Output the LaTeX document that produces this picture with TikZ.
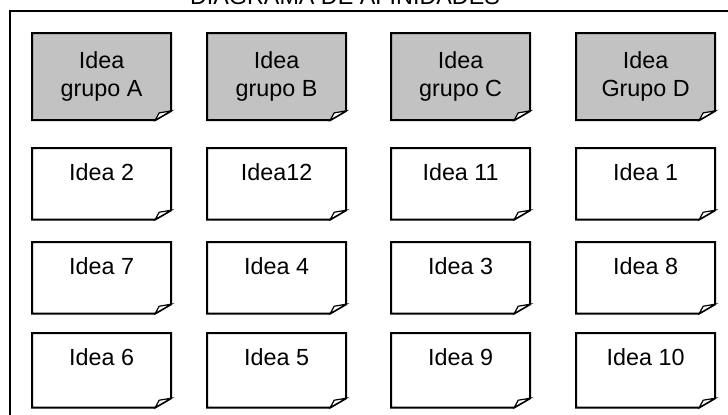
\documentclass[tikz,border=0pt]{standalone}
\usepackage{fontspec}
\setmainfont{Liberation Sans}
\usetikzlibrary{backgrounds}
\definecolor{notegray}{HTML}{C2C2C2}

\begin{document}
\begin{tikzpicture}[x=0.75pt, y=-0.75pt,
  idea/.style={anchor=north west, inner sep=0pt, minimum width=104pt, font=\fontsize{17.5}{21}\selectfont},
  cabecera/.style={idea, minimum height=65pt, align=center},
  tarjeta/.style={idea, text height=24pt, text depth=29.25pt},
  tarjetabaja/.style={idea, text height=24pt, text depth=31.5pt},
  hoja/.style={draw=black, line width=1.5pt}]
\useasboundingbox (0,0) rectangle (728,414);
\clip (0,0) rectangle (728,414);
% marco y titulo
\node[font=\fontsize{17.5}{21}\selectfont, anchor=base] (titulo) at (345,4) {DIAGRAMA DE AFINIDADES};
\draw[line width=1.5pt] (10,430) -- (10,11) -- (740,11);
% cabeceras de grupo
\node[cabecera] (ga) at (32,33) {Idea\\grupo A};
\node[cabecera] (gb) at (207,33) {Idea\\grupo B};
\node[cabecera] (gc) at (391,33) {Idea\\grupo C};
\node[cabecera] (gd) at (576,33) {Idea\\Grupo D};
% ideas
\node[tarjeta] (i2) at (32,148) {Idea 2};
\node[tarjeta] (i12) at (207,148) {Idea12};
\node[tarjeta] (i11) at (391,148) {Idea 11};
\node[tarjeta] (i1) at (576,148) {Idea 1};
\node[tarjeta] (i7) at (32,242) {Idea 7};
\node[tarjeta] (i4) at (207,242) {Idea 4};
\node[tarjeta] (i3) at (391,242) {Idea 3};
\node[tarjeta] (i8) at (576,242) {Idea 8};
\node[tarjetabaja] (i6) at (32,333) {Idea 6};
\node[tarjetabaja] (i5) at (207,333) {Idea 5};
\node[tarjetabaja] (i9) at (391,333) {Idea 9};
\node[tarjetabaja] (i10) at (576,333) {Idea 10};
% hojas con esquina doblada
\begin{pgfonlayer}{background}
\foreach \n/\c in {ga/notegray,gb/notegray,gc/notegray,gd/notegray,i2/white,i12/white,i11/white,i1/white,i7/white,i4/white,i3/white,i8/white,i6/white,i5/white,i9/white,i10/white} {
  \draw[hoja, fill=\c] (\n.north west) -- (\n.north east) -- ([yshift=7pt]\n.south east) -- ([xshift=-12pt]\n.south east) -- (\n.south west) -- cycle;
  \draw[hoja, line width=0.9pt, fill=white] ([yshift=7pt]\n.south east) -- ([xshift=-9pt,yshift=5.5pt]\n.south east) .. controls ([xshift=-11pt,yshift=3pt]\n.south east) .. ([xshift=-12pt]\n.south east) -- cycle;
}
\end{pgfonlayer}
\end{tikzpicture}
\end{document}
